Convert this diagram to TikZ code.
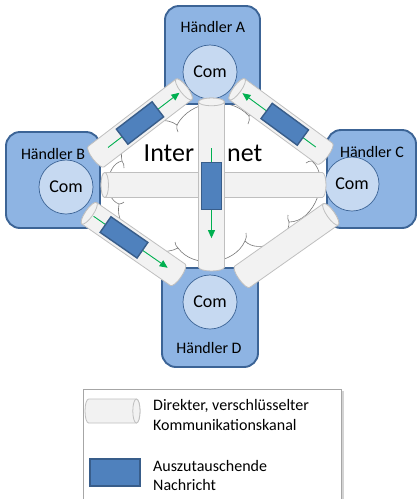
\documentclass[tikz,border=0pt]{standalone}
\usepackage{fontspec}
\setmainfont{Carlito}
\usetikzlibrary{calc,arrows.meta,shadows}

\definecolor{boxfill}{RGB}{142,180,227}
\definecolor{boxline}{RGB}{60,100,150}
\definecolor{comfill}{RGB}{198,217,241}
\definecolor{chanfill}{RGB}{242,242,242}
\definecolor{chanline}{RGB}{191,191,191}
\definecolor{msgfill}{RGB}{79,129,189}
\definecolor{msgline}{RGB}{56,93,138}
\definecolor{flow}{RGB}{0,176,80}
\definecolor{cloudline}{RGB}{120,120,120}

% channel drawn as a cylinder from its open end #2 to its capped end #3,
% with radius #1 (pt)
\newcommand\chanbetween[3][13]{%
  \pgfpointdiff{\pgfpointanchor{#2}{center}}{\pgfpointanchor{#3}{center}}%
  \pgfgetlastxy{\chandx}{\chandy}%
  \pgfmathsetmacro\chanang{atan2(\chandy,\chandx)}%
  \pgfmathsetmacro\chanlen{veclen(\chandx,\chandy)}%
  \pgfmathsetmacro\chancap{0.3*#1}%
  \begin{scope}[shift={(#2)}, rotate=\chanang, x=1pt, y=1pt]
    \filldraw[chanbody]
      (\chancap,#1) -- (\chanlen-\chancap,#1)
      arc[start angle=90, end angle=-90, x radius=\chancap, y radius=#1]
      -- (\chancap,-#1)
      arc[start angle=270, end angle=90, x radius=\chancap, y radius=#1]
      -- cycle;
    \draw[chanbody] (\chanlen-\chancap,0)
      ellipse[x radius=\chancap, y radius=#1];
  \end{scope}}
% message block on a channel, at fraction #3 from #1 to #2
\newcommand\msgon[3]{%
  \pgfpointdiff{\pgfpointanchor{#1}{center}}{\pgfpointanchor{#2}{center}}%
  \pgfgetlastxy{\chandx}{\chandy}%
  \pgfmathsetmacro\chanang{atan2(\chandy,\chandx)}%
  \node[msg, rotate=\chanang] at ($(#1)!#3!(#2)$) {};}

\begin{document}
\begin{tikzpicture}[x=1pt,y=-1pt,
  haendler/.style={draw=boxline, line width=1.9pt, fill=boxfill,
    rounded corners=14pt},
  com/.style={circle, draw=boxline, line width=0.7pt, fill=comfill,
    minimum size=54pt, inner sep=0pt, font=\fontsize{18}{20}\selectfont},
  lbl/.style={font=\fontsize{16}{19}\selectfont, inner sep=0pt},
  chanbody/.style={draw=chanline, line width=0.8pt, fill=chanfill},
  msg/.style={draw=msgline, line width=1.4pt, fill=msgfill,
    minimum width=45pt, minimum height=19pt, inner sep=0pt},
  flowarrow/.style={draw=flow, line width=0.9pt,
    -{Triangle[length=8pt,width=7pt]}},
  puff/.style={bend left=#1},
  cloudedge/.style={draw=cloudline, line width=0.6pt, fill=white}
]
\useasboundingbox (0,0) rectangle (417,499);

% the Internet cloud, puff by puff between its valleys
\coordinate (v1) at (122,161);  \coordinate (v2) at (177,125);
\coordinate (v3) at (249,116);  \coordinate (v4) at (312,161);
\coordinate (v5) at (289,222);  \coordinate (v6) at (245,241);
\coordinate (v7) at (178,248);  \coordinate (v8) at (119,204);
\path[cloudedge] (v1) to[puff=70] (v2) to[puff=55] (v3) to[puff=65] (v4)
  to[puff=70] (v5) to[puff=70] (v6) to[puff=60] (v7) to[puff=65] (v8)
  to[puff=75] (v1) -- cycle;
% short inner arcs at the valleys
\draw[cloudline, line width=0.6pt]
  (v1) to[bend left=20] ++(2,7)
  (v2) to[bend right=20] ++(1,7)
  (v3) to[bend left=20] ++(-1,8)
  (v4) to[bend right=20] ++(-6,2)
  (v5) to[bend left=20] ++(-1,-7)
  (v6) to[bend right=20] ++(1,-8)
  (v7) to[bend left=20] ++(-3,-6)
  (v8) to[bend right=20] ++(5,-2);

% merchants
\draw[haendler] (165,6) rectangle (260,104);
\draw[haendler] (6,132) rectangle (100,228);
\draw[haendler] (327,130) rectangle (416,228);
\draw[haendler] (162,268) rectangle (258,367);
\node[lbl] (lA) at (213,27) {Händler A};
\node[lbl] (lB) at (53,154) {Händler B};
\node[lbl] (lC) at (372,152) {Händler C};
\node[lbl] (lD) at (209,348) {Händler D};

\node[com] (comA) at (210,72) {Com};
\node[com] (comB) at (66,187) {Com};
\node[com] (comC) at (352,184) {Com};
\node[com] (comD) at (210,302) {Com};

\node[font=\fontsize{26}{28}\selectfont, inner sep=0pt] (inet)
  at (203,153) {Inter\hspace*{33pt}net};

% channel end points
\coordinate (hB) at (326,185);  \coordinate (hT) at (101,185);
\coordinate (vB) at (211.5,271);  \coordinate (vT) at (211.5,98);
\coordinate (baB) at (93,159);  \coordinate (baT) at (187,87);
\coordinate (caB) at (328,156); \coordinate (caT) at (234,87);
\coordinate (bdB) at (181,277); \coordinate (bdT) at (86,211);
\coordinate (cdB) at (239,279); \coordinate (cdT) at (334,212);

\chanbetween[12.5]{hB}{hT}
\chanbetween{vB}{vT}
\chanbetween{baB}{baT}
\chanbetween{caB}{caT}
\chanbetween{bdB}{bdT}
\chanbetween{cdB}{cdT}

% messages travelling through the channels
\draw[flowarrow] ($(vB)!0.71!(vT)$) -- ($(vB)!0.19!(vT)$);
\node[msg, minimum width=47pt, minimum height=20pt, rotate=90]
  (vmsg) at ($(vB)!0.49!(vT)$) {};

\draw[flowarrow] ($(baB)!0.16!(baT)$) -- ($(baB)!0.92!(baT)$);
\msgon{baB}{baT}{0.5}

\draw[flowarrow] ($(caB)!0.13!(caT)$) -- ($(caB)!0.91!(caT)$);
\msgon{caB}{caT}{0.46}

\draw[flowarrow] ($(bdB)!0.92!(bdT)$) -- ($(bdB)!0.14!(bdT)$);
\msgon{bdB}{bdT}{0.6}

% legend
\draw[draw=black!35, fill=white, line width=0.6pt,
  drop shadow={shadow xshift=2.5pt, shadow yshift=-2pt, opacity=0.35}]
  (83,389) rectangle (341,520);
\coordinate (legB) at (85,411); \coordinate (legT) at (140,411);
\chanbetween[12]{legB}{legT}
\node[msg, minimum width=50pt, minimum height=27pt] (legmsg)
  at (115,472.5) {};
\node[lbl, anchor=west, align=left, font=\fontsize{16}{20}\selectfont]
  (legt1) at (153,415) {Direkter, verschlüsselter\\Kommunikationskanal};
\node[lbl, anchor=west, align=left, font=\fontsize{16}{19}\selectfont]
  (legt2) at (153,475) {Auszutauschende\\Nachricht};
\end{tikzpicture}
\end{document}
